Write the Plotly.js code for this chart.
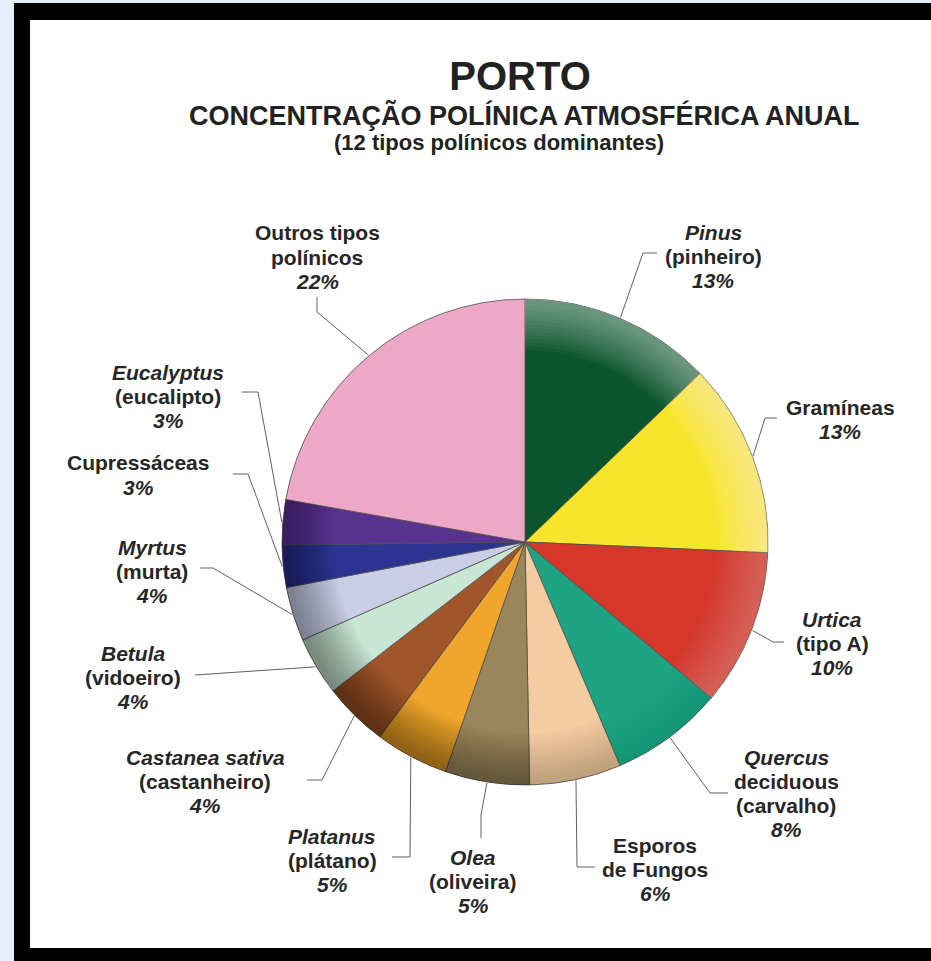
<!DOCTYPE html>
<html>
<head>
<meta charset="utf-8">
<script src="https://cdn.plot.ly/plotly-3.0.1.min.js"></script>
<style>
  html, body { margin: 0; padding: 0; overflow: hidden; background: #fff; }
  #chart { position: absolute; left: 0; top: 0; width: 931px; height: 961px; }
</style>
</head>
<body>
<div id="chart"></div>
<script>
// ---------------- DATA ----------------
const categories = [
  'Pinus (pinheiro)', 'Gramíneas', 'Urtica (tipo A)', 'Quercus deciduous (carvalho)',
  'Esporos de Fungos', 'Olea (oliveira)', 'Platanus (plátano)', 'Castanea sativa (castanheiro)',
  'Betula (vidoeiro)', 'Myrtus (murta)', 'Cupressáceas', 'Eucalyptus (eucalipto)',
  'Outros tipos polínicos'
];
// slice sizes (% of annual total)
const shares = [12.8, 12.9, 10.4, 7.5, 6.1, 5.6, 4.9, 4.3, 3.9, 3.6, 2.8, 3.0, 22.2];
// percentages printed on the labels
const pctLabels = [13, 13, 10, 8, 6, 5, 5, 4, 4, 4, 3, 3, 22];
// label text lines (without the percentage)
const labelLines = [
  ['<i>Pinus</i>', '(pinheiro)'],
  ['Gramíneas'],
  ['<i>Urtica</i>', '(tipo A)'],
  ['<i>Quercus</i>', 'deciduous', '(carvalho)'],
  ['Esporos', 'de Fungos'],
  ['<i>Olea</i>', '(oliveira)'],
  ['<i>Platanus</i>', '(plátano)'],
  ['<i>Castanea sativa</i>', '(castanheiro)'],
  ['<i>Betula</i>', '(vidoeiro)'],
  ['<i>Myrtus</i>', '(murta)'],
  ['Cupressáceas'],
  ['<i>Eucalyptus</i>', '(eucalipto)'],
  ['Outros tipos', 'polínicos']
];
const titleText = 'PORTO';
const subtitleText = 'CONCENTRAÇÃO POLÍNICA ATMOSFÉRICA ANUAL';
const subsubText = '(12 tipos polínicos dominantes)';

// ---------------- STYLE / LAYOUT ----------------
const sliceColors = ['#0a552b', '#f8e42a', '#d5382b', '#1fa382', '#f4cca2', '#9b855c',
  '#f0a52b', '#a0552a', '#c7e6d4', '#c9cde6', '#2b3491', '#5a3391', '#eda8c7'];
const W = 931, H = 961;
const CX = 525, CY = 542, R = 243;
// label block positions (px, centre of first line) and leader elbow / end points (px)
const labelPos = [
  {x: 713, y: 232, elbow: [643, 253], end: [657, 253]},
  {x: 840, y: 407, elbow: [765, 418], end: [777, 418]},
  {x: 832, y: 619, elbow: [773, 642], end: [784, 642]},
  {x: 786, y: 757, elbow: [710, 793], end: [728, 793]},
  {x: 655, y: 845, elbow: [577, 867], end: [595, 867]},
  {x: 473, y: 857, elbow: [481, 815], end: [481, 838]},
  {x: 332, y: 836, elbow: [410, 857], end: [392, 857]},
  {x: 205, y: 757, elbow: [322, 780], end: [307, 780]},
  {x: 133, y: 653, elbow: null,       end: [195, 675]},
  {x: 152, y: 547, elbow: [213, 568], end: [200, 568]},
  {x: 138, y: 463, elbow: [248, 474], end: [233, 474]},
  {x: 168, y: 372, elbow: [258, 392], end: [242, 392]},
  {x: 317, y: 233, elbow: [317, 312], end: [317, 297]}
];
const LINE_GAP = 24.3;
const FONT = 'Liberation Sans, Arial, sans-serif';
const labelFont = {family: FONT, size: 21, color: '#262626', weight: 'bold'};
const lineColor = '#606060';

const px = (x) => x / W;
const py = (y) => 1 - y / H;
const domain = {x: [px(CX - R), px(CX + R)], y: [py(CY + R), py(CY - R)]};

// ---------------- TRACES ----------------
const traces = [{
  type: 'pie', values: shares, labels: categories, sort: false,
  direction: 'clockwise', rotation: 0, domain: domain,
  marker: {colors: sliceColors, line: {color: '#4d4d4d', width: 0.8}},
  textinfo: 'none', hoverinfo: 'label+percent', showlegend: false
}];

// rim shading (light from upper right) built from the same shares
const total = shares.reduce((a, b) => a + b, 0);
let cum = 0;
const mids = shares.map(v => { const m = (cum + v / 2) / total * 360; cum += v; return m; });
const LIGHT_DIR = 50;
const shadeColors = mids.map(m => {
  const t = Math.cos((m - LIGHT_DIR) * Math.PI / 180);
  return t > 0 ? `rgba(255,255,255,${(0.042 * t).toFixed(4)})` : `rgba(0,0,0,${(0.036 * -t).toFixed(4)})`;
});
for (let h = 0.79; h < 0.985; h += 0.015) {
  traces.push({
    type: 'pie', values: shares, labels: categories, sort: false, hole: h,
    direction: 'clockwise', rotation: 0, domain: domain,
    marker: {colors: shadeColors, line: {width: 0}},
    textinfo: 'none', hoverinfo: 'skip', showlegend: false
  });
}

// ---------------- FRAME (page decoration) ----------------
const shapes = [
  {type: 'rect', xref: 'paper', yref: 'paper', layer: 'below', x0: px(14), x1: 1.02, y0: -0.02, y1: py(3),
   fillcolor: '#000', line: {width: 0}},
  {type: 'rect', xref: 'paper', yref: 'paper', layer: 'below', x0: px(30), x1: 1.02, y0: py(948), y1: py(20),
   fillcolor: '#fff', line: {width: 0}}
];

// ---------------- ANNOTATIONS & LEADERS ----------------
const annotations = [
  {text: subtitleText, x: px(524), y: py(116), xref: 'paper', yref: 'paper', xanchor: 'center', yanchor: 'middle',
   showarrow: false, font: {family: FONT, size: 27, color: '#222', weight: 'bold'}},
  {text: subsubText, x: px(499), y: py(142), xref: 'paper', yref: 'paper', xanchor: 'center', yanchor: 'middle',
   showarrow: false, font: {family: FONT, size: 22, color: '#222', weight: 'bold'}}
];
categories.forEach((c, i) => {
  const lines = labelLines[i].concat([`<i>${pctLabels[i]}%</i>`]);
  const p = labelPos[i];
  lines.forEach((t, j) => {
    annotations.push({text: t, x: px(p.x), y: py(p.y + j * LINE_GAP), xref: 'paper', yref: 'paper',
      xanchor: 'center', yanchor: 'middle', showarrow: false, font: labelFont});
  });
  const a = mids[i] * Math.PI / 180;
  const sx = CX + (R + 1) * Math.sin(a), sy = CY - (R + 1) * Math.cos(a);
  let path = `M ${px(sx)},${py(sy)}`;
  if (p.elbow) path += ` L ${px(p.elbow[0])},${py(p.elbow[1])}`;
  path += ` L ${px(p.end[0])},${py(p.end[1])}`;
  shapes.push({type: 'path', xref: 'paper', yref: 'paper', path: path, line: {color: lineColor, width: 1}});
});

const layout = {
  width: W, height: H,
  margin: {l: 0, r: 0, t: 0, b: 0},
  paper_bgcolor: '#e4eef8', plot_bgcolor: 'rgba(0,0,0,0)',
  showlegend: false,
  title: {text: titleText, x: px(520), xanchor: 'center', y: py(76), yanchor: 'middle',
          font: {family: FONT, size: 40, color: '#222', weight: 'bold'}},
  annotations: annotations,
  shapes: shapes
};
Plotly.newPlot('chart', traces, layout, {displayModeBar: false, staticPlot: true});
</script>
</body>
</html>
